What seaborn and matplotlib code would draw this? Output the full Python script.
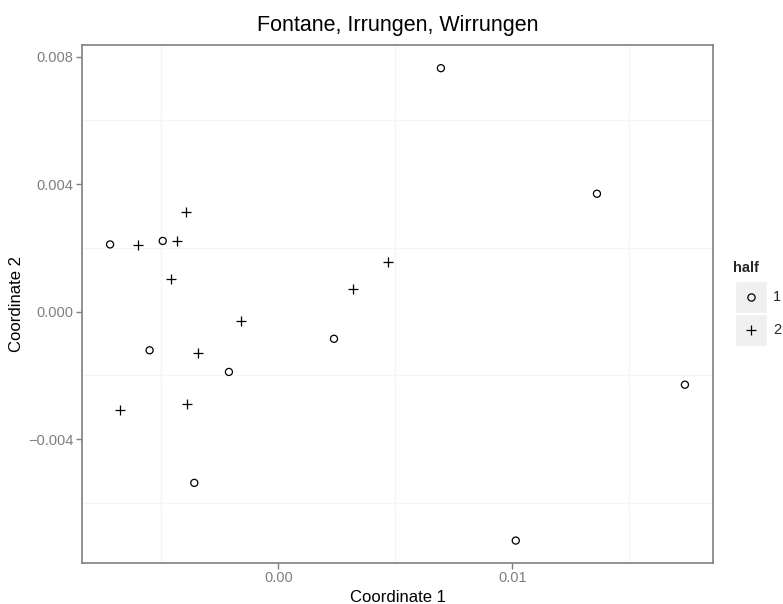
import matplotlib
matplotlib.use("Agg")
import matplotlib.pyplot as plt
from matplotlib.patches import Rectangle
from matplotlib.lines import Line2D
import numpy as np
import pandas as pd
import seaborn as sns

# MDS coordinates of text segments, split by half of the novel
half1_x = [-0.00719, -0.00494, 0.00695, 0.01362, -0.00550, -0.00211, 0.00238, -0.00359, 0.01738, 0.01015]
half1_y = [0.00211, 0.00222, 0.00764, 0.00370, -0.00121, -0.00189, -0.00085, -0.00537, -0.00229, -0.00718]
half2_x = [-0.00601, -0.00432, -0.00393, -0.00459, 0.00321, 0.00470, -0.00159, -0.00342, -0.00392, -0.00675]
half2_y = [0.00210, 0.00221, 0.00314, 0.00103, 0.00071, 0.00156, -0.00028, -0.00130, -0.00289, -0.00309]

halves = ["1", "2"]
x_ticks = [0.00, 0.01]
x_tick_labels = ["0.00", "0.01"]
y_ticks = [0.008, 0.004, 0.000, -0.004]
y_tick_labels = ["0.008", "0.004", "0.000", "\u22120.004"]

df = pd.DataFrame({
    "Coordinate 1": half1_x + half2_x,
    "Coordinate 2": half1_y + half2_y,
    "half": ["1"] * len(half1_x) + ["2"] * len(half2_x),
})

sns.set_theme(style="white")
plt.rcParams["font.family"] = ["Liberation Sans", "DejaVu Sans"]

W, H = 783, 604
fig = plt.figure(figsize=(W / 100, H / 100), dpi=100)
ax = fig.add_axes([82 / W, 1 - 563 / H, (713 - 82) / W, (563 - 45) / H])

d1 = df[df["half"] == "1"]
d2 = df[df["half"] == "2"]
sns.scatterplot(data=d1, x="Coordinate 1", y="Coordinate 2", marker="o", s=26,
                facecolor="none", edgecolor="black", linewidth=0.9, ax=ax, legend=False, zorder=3)
sns.scatterplot(data=d2, x="Coordinate 1", y="Coordinate 2", marker="+", s=60,
                color="black", linewidth=0.9, ax=ax, legend=False, zorder=3)

ax.set_xlim(-0.00839, 0.01858)
ax.set_ylim(-0.007884, 0.008367)

# faint minor grid only
for gx in [-0.005, 0.005, 0.015]:
    ax.axvline(gx, color="#f5f5f5", lw=1.0, zorder=0)
for gy in [0.006, 0.002, -0.002, -0.006]:
    ax.axhline(gy, color="#f5f5f5", lw=1.0, zorder=0)

ax.set_xticks(x_ticks)
ax.set_xticklabels(x_tick_labels)
ax.set_yticks(y_ticks)
ax.set_yticklabels(y_tick_labels)
ax.tick_params(axis="both", which="major", direction="out", length=4, width=1,
               color="#7f7f7f", labelcolor="#7f7f7f", labelsize=10.5, pad=2,
               bottom=True, left=True)
for sp in ax.spines.values():
    sp.set_color("#7f7f7f")
    sp.set_linewidth(1.2)

ax.set_xlabel("Coordinate 1", fontsize=12, color="black", labelpad=3)
ax.set_ylabel("Coordinate 2", fontsize=12, color="black", labelpad=3)
ax.set_title("Fontane, Irrungen, Wirrungen", fontsize=15.5, color="black", pad=10)

# legend drawn with grey key boxes
fig.text(733 / W, 1 - 268 / H, "half", fontsize=10.5, fontweight="bold", va="center", ha="left")
key_markers = {"1": ("o", 5.2, "none"), "2": ("+", 7.5, "black")}
for i, h in enumerate(halves):
    top = 281 + i * 33
    fig.add_artist(Rectangle((735 / W, 1 - (top + 32) / H), 32 / W, 32 / H,
                             transform=fig.transFigure, facecolor="#f0f0f0", edgecolor="white", lw=1))
    m, ms, fc = key_markers[h]
    cy = 1 - (top + 16) / H
    fig.add_artist(Line2D([751 / W], [cy], marker=m, markersize=ms, markerfacecolor=fc,
                          markeredgecolor="black", markeredgewidth=0.9, linestyle="none",
                          transform=fig.transFigure))
    fig.text(773 / W, cy, h, fontsize=10.5, va="center", ha="left")

fig.savefig("out.png", dpi=100)
